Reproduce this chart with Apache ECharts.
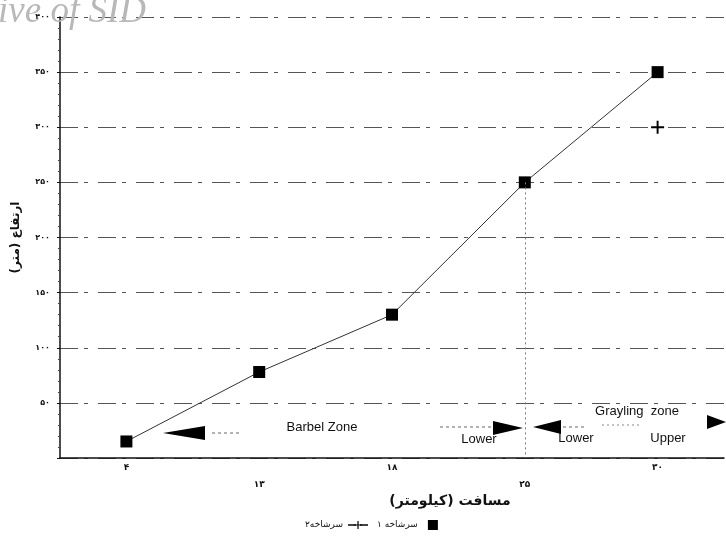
<!DOCTYPE html>
<html>
<head>
<meta charset="utf-8">
<script src="https://cdn.jsdelivr.net/npm/echarts@6/dist/echarts.min.js"></script>
<style>html,body{margin:0;padding:0;background:#fff;}#c{width:726px;height:541px;}</style>
</head>
<body>
<div id="c"></div>
<script>
// Data
var categories = [4, 13, 18, 25, 30];          // distance (km)
var headwater1 = [15, 78, 130, 250, 350];      // elevation (m), series 1
var headwater2 = [null, null, null, null, 300];// elevation (m), series 2
var yTicks = [0, 50, 100, 150, 200, 250, 300, 350, 400];
var seriesNames = ['سرشاخه ۱', 'سرشاخه۲'];

var faDigits = ['۰','۱','۲','۳','۴','۵','۶','۷','۸','۹'];
function toFa(n){ return String(n).replace(/[0-9]/g, function(d){ return faDigits[+d]; }); }

var chart = echarts.init(document.getElementById('c'));
var plusPath = 'path://M8.5,0H11.5V8.5H20V11.5H11.5V20H8.5V11.5H0V8.5H8.5Z';
var squarePath = 'path://M0,0H10V10H0Z';

var option = {
  backgroundColor: '#fff',
  animation: false,
  grid: { left: 60, right: 2, top: 17, bottom: 83 },
  xAxis: {
    type: 'category',
    data: categories.map(toFa),
    boundaryGap: true,
    name: 'مسافت (کیلومتر)',
    nameLocation: 'middle',
    nameGap: 35,
    nameTextStyle: { fontFamily: 'DejaVu Sans', fontSize: 14, fontWeight: 'bold', color: '#111', padding: [0, 0, 0, 116] },
    axisLine: { lineStyle: { color: '#111', width: 1.5 } },
    axisTick: { alignWithLabel: true, length: 5, lineStyle: { color: '#111' } },
    axisLabel: {
      color: '#111', fontFamily: 'DejaVu Sans', fontSize: 9, fontWeight: 'bold', margin: 5,
      formatter: function(v, i){ return i % 2 === 1 ? '{b|' + v + '}' : '{a|' + v + '}'; },
      rich: { a: { fontSize: 9, fontWeight: 'bold', color: '#111' }, b: { fontSize: 9, fontWeight: 'bold', color: '#111', padding: [17, 0, 0, 0] } }
    },
    splitLine: { show: false }
  },
  yAxis: {
    type: 'value',
    min: yTicks[0],
    max: yTicks[yTicks.length - 1],
    interval: 50,
    name: 'ارتفاع (متر)',
    nameLocation: 'middle',
    nameGap: 38,
    nameTextStyle: { fontFamily: 'DejaVu Sans', fontSize: 12, fontWeight: 'bold', color: '#111' },
    axisLine: { show: true, lineStyle: { color: '#111', width: 1.5 } },
    axisTick: { show: true, length: 3, lineStyle: { color: '#111' } },
    minorTick: { show: true, splitNumber: 5, length: 2, lineStyle: { color: '#444' } },
    axisLabel: {
      color: '#111', fontFamily: 'DejaVu Sans', fontSize: 8, fontWeight: 'bold', margin: 10,
      formatter: function(v){ return v === 0 ? '' : toFa(v); }
    },
    splitLine: { show: true, lineStyle: { color: '#555', width: 1, type: [18, 6, 4, 10] } }
  },
  legend: {
    top: 515,
    left: 300,
    align: 'right',
    itemGap: 8,
    itemWidth: 20,
    itemHeight: 10,
    textStyle: { fontFamily: 'DejaVu Sans', fontSize: 9, color: '#111' },
    data: [
      { name: seriesNames[1] },
      { name: seriesNames[0], icon: squarePath, itemStyle: { color: '#000' } }
    ]
  },
  series: [
    {
      name: seriesNames[0],
      type: 'line',
      data: headwater1,
      symbol: 'rect',
      symbolSize: 12,
      symbolKeepAspect: true,
      itemStyle: { color: '#000' },
      lineStyle: { color: '#333', width: 1 },
      markLine: {
        silent: true,
        symbol: 'none',
        label: { show: false },
        lineStyle: { color: '#777', type: [2, 3], width: 1 },
        data: [[{ coord: [3, 250] }, { coord: [3, 0] }]]
      },
      z: 3
    },
    {
      name: seriesNames[1],
      type: 'line',
      data: headwater2,
      symbol: plusPath,
      symbolSize: 13,
      itemStyle: { color: '#000' },
      lineStyle: { color: '#444', width: 1, type: 'dashed' },
      z: 3
    }
  ],
  graphic: [
    // watermark
    { type: 'text', x: 146, y: 31, style: { text: 'Archive of SID', align: 'right', verticalAlign: 'bottom', font: 'italic 37px "Liberation Serif"', fill: '#b8b8b8' }, z: 10 },
    // Barbel zone
    { type: 'polygon', shape: { points: [[163, 433], [205, 426], [205, 440]] }, style: { fill: '#000' } },
    { type: 'line', shape: { x1: 212, y1: 433, x2: 240, y2: 433 }, style: { stroke: '#666', lineDash: [3, 3] } },
    { type: 'text', x: 322, y: 427, style: { text: 'Barbel Zone', align: 'center', verticalAlign: 'middle', font: '13px "Liberation Sans"', fill: '#111' } },
    { type: 'line', shape: { x1: 440, y1: 427, x2: 493, y2: 427 }, style: { stroke: '#666', lineDash: [3, 3] } },
    { type: 'polygon', shape: { points: [[523, 428], [493, 421], [493, 435]] }, style: { fill: '#000' } },
    { type: 'text', x: 479, y: 439, style: { text: 'Lower', align: 'center', verticalAlign: 'middle', font: '13px "Liberation Sans"', fill: '#111' } },
    // Grayling zone
    { type: 'polygon', shape: { points: [[533, 427], [561, 420], [561, 434]] }, style: { fill: '#000' } },
    { type: 'line', shape: { x1: 563, y1: 427, x2: 585, y2: 427 }, style: { stroke: '#666', lineDash: [3, 3] } },
    { type: 'text', x: 637, y: 411, style: { text: 'Grayling  zone', align: 'center', verticalAlign: 'middle', font: '13px "Liberation Sans"', fill: '#111' } },
    { type: 'line', shape: { x1: 602, y1: 425, x2: 642, y2: 425 }, style: { stroke: '#888', lineDash: [2, 3] } },
    { type: 'text', x: 576, y: 438, style: { text: 'Lower', align: 'center', verticalAlign: 'middle', font: '13px "Liberation Sans"', fill: '#111' } },
    { type: 'text', x: 668, y: 438, style: { text: 'Upper', align: 'center', verticalAlign: 'middle', font: '13px "Liberation Sans"', fill: '#111' } },
    { type: 'polygon', shape: { points: [[726, 422], [707, 415], [707, 429]] }, style: { fill: '#000' } }
  ]
};
chart.setOption(option);
</script>
</body>
</html>
